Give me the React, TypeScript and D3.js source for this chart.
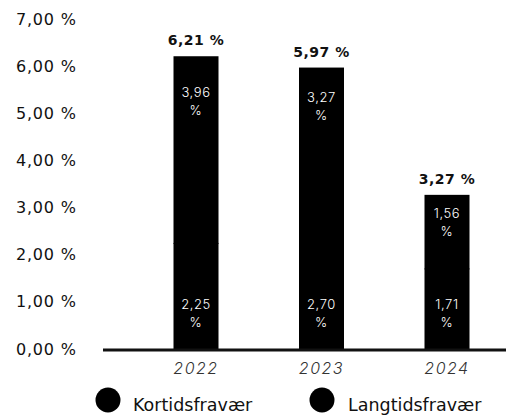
import { useEffect, useRef } from 'react'
import * as d3 from 'd3'

const years = ['2022', '2023', '2024']
const kortids = [2.25, 2.7, 1.71]
const langtids = [3.96, 3.27, 1.56]
const totals = [6.21, 5.97, 3.27]
const yTicks = [0, 1, 2, 3, 4, 5, 6, 7]
const seriesNames = ['Kortidsfravær', 'Langtidsfravær']

const fmt = (v: number) => v.toFixed(2).replace('.', ',')
const FONT = '"DejaVu Sans", sans-serif'
const THIN = 'Inter, "DejaVu Sans", sans-serif'

export default function App() {
  const svgRef = useRef<SVGSVGElement>(null)

  useEffect(() => {
    const svg = d3.select(svgRef.current)
    svg.selectAll('*').remove()

    const width = 506
    const height = 416

    const y = d3.scaleLinear().domain([0, 7]).range([349, 19])
    const x = d3.scalePoint<string>().domain(years).range([196, 447])
    const barW = 45

    // ── Y tick labels ─────────────────────────────────────
    svg
      .append('g')
      .selectAll('text')
      .data(yTicks)
      .join('text')
      .attr('x', 16)
      .attr('y', (d) => y(d))
      .attr('dominant-baseline', 'central')
      .attr('font-family', FONT)
      .attr('font-size', '16px')
      .attr('letter-spacing', '0.8px')
      .attr('fill', '#111')
      .text((d) => `${fmt(d)} %`)

    // ── Stacked bars ──────────────────────────────────────
    const rows = years.map((yr, i) => ({ yr, k: kortids[i], l: langtids[i], t: totals[i] }))
    const bars = svg.append('g')
    rows.forEach((r) => {
      const cx = x(r.yr)!
      bars
        .append('rect')
        .attr('x', cx - barW / 2)
        .attr('y', y(r.k))
        .attr('width', barW)
        .attr('height', y(0) - y(r.k))
        .attr('fill', '#000')
      bars
        .append('rect')
        .attr('x', cx - barW / 2)
        .attr('y', y(r.k + r.l))
        .attr('width', barW)
        .attr('height', y(r.k) - y(r.k + r.l) + 1)
        .attr('fill', '#000')

      // inner labels
      const topH = y(r.k) - y(r.k + r.l)
      const topY = y(r.k + r.l) + Math.max(18, topH * 0.19)
      const botY = y(0) - 45
      ;[
        [r.l, topY],
        [r.k, botY],
      ].forEach(([v, ly]) => {
        const t = bars
          .append('text')
          .attr('x', cx)
          .attr('y', ly)
          .attr('text-anchor', 'middle')
          .attr('dominant-baseline', 'central')
          .attr('font-family', THIN)
          .attr('font-size', '13px')
          .attr('font-weight', 300)
          .attr('letter-spacing', '0.6px')
          .attr('fill', '#fff')
        t.append('tspan').attr('x', cx).text(fmt(v))
        t.append('tspan').attr('x', cx).attr('dy', 18).text('%')
      })

      // total label
      bars
        .append('text')
        .attr('x', cx)
        .attr('y', y(r.t) - 16)
        .attr('text-anchor', 'middle')
        .attr('dominant-baseline', 'central')
        .attr('font-family', FONT)
        .attr('font-size', '14px')
        .attr('font-weight', 'bold')
        .attr('letter-spacing', '0.5px')
        .attr('fill', '#111')
        .text(`${fmt(r.t)} %`)
    })

    // ── X axis ────────────────────────────────────────────
    svg
      .append('line')
      .attr('x1', 103)
      .attr('x2', width)
      .attr('y1', y(0) + 1)
      .attr('y2', y(0) + 1)
      .attr('stroke', '#111')
      .attr('stroke-width', 3)

    svg
      .append('g')
      .selectAll('text')
      .data(years)
      .join('text')
      .attr('x', (d) => x(d)!)
      .attr('y', 368)
      .attr('text-anchor', 'middle')
      .attr('dominant-baseline', 'central')
      .attr('font-family', THIN)
      .attr('font-size', '16px')
      .attr('font-style', 'italic')
      .attr('font-weight', 300)
      .attr('letter-spacing', '1.5px')
      .attr('fill', '#333')
      .text((d) => d)

    // ── Legend ────────────────────────────────────────────
    const legendX = [108, 322]
    const legend = svg
      .append('g')
      .selectAll('g')
      .data(seriesNames)
      .join('g')
      .attr('transform', (_, i) => `translate(${legendX[i]},400)`)
    legend.append('circle').attr('r', 12.5).attr('fill', '#000')
    legend
      .append('text')
      .attr('x', (_, i) => (i === 0 ? 25 : 26))
      .attr('y', 11)
      .attr('font-family', FONT)
      .attr('font-size', '17.5px')
      .attr('fill', '#111')
      .text((d) => d)

    svg.attr('width', width).attr('height', height)
  }, [])

  return (
    <div style={{ position: 'absolute', left: 0, top: 0, background: '#fff' }}>
      <svg ref={svgRef} width={506} height={416} style={{ display: 'block' }} />
    </div>
  )
}
